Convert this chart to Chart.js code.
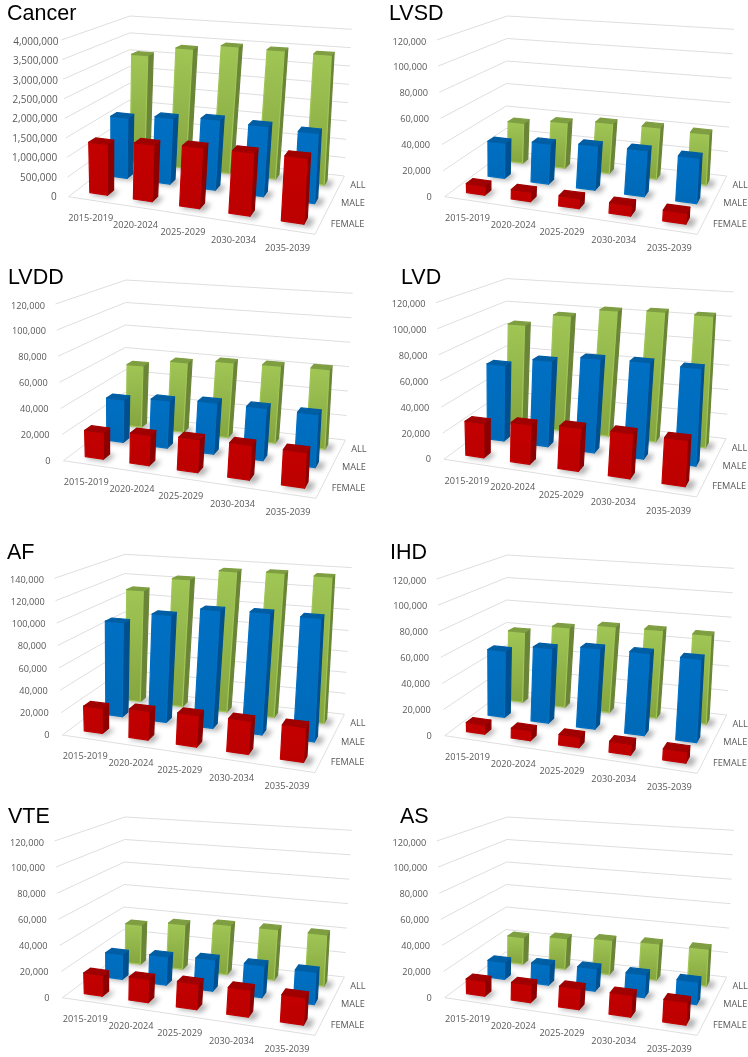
<!DOCTYPE html>
<html>
<head>
<meta charset="utf-8">
<title>Projected heart disease and cancer cases</title>
<script src="https://cdn.jsdelivr.net/npm/chart.js@4"></script>
<style>
  html, body { margin: 0; padding: 0; background: #fff; }
  body { position: relative; width: 748px; height: 1057px; overflow: hidden; }
  canvas { position: absolute; filter: blur(0.3px); }
</style>
</head>
<body>
<script>
// data
const periods = ['2015-2019', '2020-2024', '2025-2029', '2030-2034', '2035-2039'];
const groups = ['FEMALE', 'MALE', 'ALL'];

const cancerFemale = [1300000, 1420000, 1490000, 1510000, 1530000];
const cancerMale = [1630000, 1740000, 1820000, 1780000, 1740000];
const cancerAll = [3060000, 3330000, 3480000, 3460000, 3430000];

const lvsdFemale = [7000, 7200, 7500, 7500, 7500];
const lvsdMale = [28500, 31800, 34300, 35000, 33700];
const lvsdAll = [34000, 38000, 41200, 41500, 40400];

const lvddFemale = [20300, 22800, 24300, 24900, 24800];
const lvddMale = [34400, 37500, 39700, 39800, 39400];
const lvddAll = [52200, 58200, 61500, 62300, 63000];

const lvdFemale = [26300, 29700, 31600, 32300, 32300];
const lvdMale = [61100, 68000, 72900, 73600, 72500];
const lvdAll = [85800, 96200, 103200, 104900, 104200];

const afFemale = [22400, 25100, 27000, 27800, 28300];
const afMale = [88800, 99200, 107200, 108200, 107200];
const afAll = [110200, 124200, 134700, 136000, 135200];

const ihdFemale = [7000, 7500, 7800, 7800, 7800];
const ihdMale = [53600, 59300, 62600, 62700, 61900];
const ihdAll = [59600, 66600, 70600, 70900, 70200];

const vteFemale = [16000, 17600, 18900, 19400, 19200];
const vteMale = [20000, 22400, 24300, 24300, 24000];
const vteAll = [33200, 37400, 40500, 40900, 40700];

const asFemale = [11400, 13400, 15300, 15600, 15800];
const asMale = [13800, 15900, 17400, 17300, 16700];
const asAll = [22700, 25700, 28200, 29300, 29300];

// panel layout, shift moves the box template inside the canvas
const panels = [
  { title: 'Cancer', left: 0, top: 0, titleX: 7, titleY: 20, shift: [-8.3, 0], squeeze: 6, gap: [11.7, 3], tickSize: 10, max: 4000000, step: 500000, rows: [cancerFemale, cancerMale, cancerAll] },
  { title: 'LVSD', left: 374, top: 0, titleX: 15, titleY: 20, shift: [0, 0], max: 120000, step: 20000, rows: [lvsdFemale, lvsdMale, lvsdAll] },
  { title: 'LVDD', left: 0, top: 262, titleX: 8, titleY: 22, shift: [-7.3, 2], max: 120000, step: 20000, rows: [lvddFemale, lvddMale, lvddAll] },
  { title: 'LVD', left: 374, top: 262, titleX: 27, titleY: 22, shift: [-0.7, 0.6], max: 120000, step: 20000, rows: [lvdFemale, lvdMale, lvdAll] },
  { title: 'AF', left: 0, top: 530, titleX: 7, titleY: 29, shift: [-8.3, 8.3], max: 140000, step: 20000, rows: [afFemale, afMale, afAll] },
  { title: 'IHD', left: 374, top: 530, titleX: 16, titleY: 29, shift: [0, 9], max: 120000, step: 20000, rows: [ihdFemale, ihdMale, ihdAll] },
  { title: 'VTE', left: 0, top: 795, titleX: 8, titleY: 28, shift: [-8.3, 6], max: 120000, step: 20000, rows: [vteFemale, vteMale, vteAll] },
  { title: 'AS', left: 374, top: 795, titleX: 26, titleY: 28, shift: [0, 6], max: 120000, step: 20000, rows: [asFemale, asMale, asAll] }
];

const rowStyles = [
  { front: '#c40000', frontLow: '#bc0000', side: '#8c0000', cap: '#a00000' },
  { front: '#0070c4', frontLow: '#006ab8', side: '#00508f', cap: '#005ea4' },
  { front: '#a0c655', frontLow: '#86a640', side: '#6b8538', cap: '#7f9e42' }
];

// corners of the 3D box in canvas pixels: floor then top plane
const boxFloor = { fl: [70.7, 196.7], fr: [323.3, 234.3], br: [352.7, 176], bl: [131.7, 151] };
const boxTop = { fl: [62.7, 40], fr: [331, 56.7], br: [360, 29.3], bl: [133.3, 16] };
const barDepth = 0.1;

function quadMap(c) {
  // unit square to quad homography, u runs left to right, w runs front to back
  const [x0, y0] = c.fl, [x1, y1] = c.fr, [x2, y2] = c.br, [x3, y3] = c.bl;
  const dx1 = x1 - x2, dx2 = x3 - x2, sx = x0 - x1 + x2 - x3;
  const dy1 = y1 - y2, dy2 = y3 - y2, sy = y0 - y1 + y2 - y3;
  const det = dx1 * dy2 - dx2 * dy1;
  const g = (sx * dy2 - dx2 * sy) / det;
  const h = (dx1 * sy - sx * dy1) / det;
  const a = x1 - x0 + g * x1, b = x3 - x0 + h * x3;
  const d = y1 - y0 + g * y1, e = y3 - y0 + h * y3;
  return (u, w) => {
    const k = g * u + h * w + 1;
    return [(a * u + b * w + x0) / k, (d * u + e * w + y0) / k];
  };
}

function shifted(c, p, isTop) {
  const out = {};
  for (const key of ['fl', 'fr', 'br', 'bl']) {
    let pad = 0;
    if (p.squeeze && key === 'fl') pad = p.squeeze + (isTop ? 1 : 0);
    if (p.squeeze && key === 'bl') pad = p.squeeze - 1;
    out[key] = [c[key][0] + p.shift[0] + pad, c[key][1] + p.shift[1]];
  }
  return out;
}

function poly(ctx, pts) {
  ctx.beginPath();
  pts.forEach((pt, i) => i ? ctx.lineTo(pt[0], pt[1]) : ctx.moveTo(pt[0], pt[1]));
  ctx.closePath();
}

function face(ctx, pts, fill, edge) {
  poly(ctx, pts);
  ctx.fillStyle = fill;
  ctx.fill();
  ctx.strokeStyle = edge;
  ctx.lineWidth = 1.2;
  ctx.lineJoin = 'round';
  ctx.stroke();
}

const box3d = {
  id: 'box3d',
  beforeDatasetsDraw(chart, args, opts) {
    const ctx = chart.ctx;
    const p = opts.panel;
    const floorAt = quadMap(shifted(boxFloor, p, false));
    const topAt = quadMap(shifted(boxTop, p, true));
    const at = (u, v, w) => {
      const a = floorAt(u, w), b = topAt(u, w);
      return [a[0] + (b[0] - a[0]) * v, a[1] + (b[1] - a[1]) * v];
    };
    const xs = chart.scales.x, ys = chart.scales.y, zs = chart.scales.depth;
    const fracY = y => (ys.bottom - y) / ys.height;

    ctx.save();
    // walls and floor
    ctx.strokeStyle = '#dedede';
    ctx.lineWidth = 1;
    ys.ticks.forEach(t => {
      const v = fracY(ys.getPixelForValue(t.value));
      const pts = [at(0, v, 0), at(0, v, 1), at(1, v, 1)];
      ctx.beginPath();
      pts.forEach((pt, i) => i ? ctx.lineTo(pt[0], pt[1]) : ctx.moveTo(pt[0], pt[1]));
      ctx.stroke();
    });
    ctx.beginPath();
    [at(0, 0, 0), at(1, 0, 0), at(1, 0, 1)].forEach((pt, i) => i ? ctx.lineTo(pt[0], pt[1]) : ctx.moveTo(pt[0], pt[1]));
    ctx.stroke();

    // value ticks
    const gap = p.gap || [13, 10.4];
    ctx.fillStyle = '#595959';
    ctx.font = (p.tickSize || 9.2) + 'px "Open Sans"';
    ctx.textAlign = 'right';
    ctx.textBaseline = 'middle';
    ys.ticks.forEach(t => {
      const v = fracY(ys.getPixelForValue(t.value));
      const pt = at(0, v, 0);
      ctx.fillText(t.label, pt[0] - (gap[0] + (gap[1] - gap[0]) * v), pt[1] + 0.5 + 1.5 * v);
    });

    // period labels
    ctx.font = '9.2px "Open Sans"';
    ctx.textAlign = 'center';
    xs.ticks.forEach((t, i) => {
      const pt = at((xs.getPixelForValue(i) - xs.left) / xs.width, 0, 0);
      ctx.fillText(t.label, pt[0] + 1, pt[1] + 18.5);
    });

    // group labels
    ctx.textAlign = 'left';
    zs.ticks.forEach((t, i) => {
      const pt = at(1, 0, (zs.getPixelForValue(i) - zs.left) / zs.width);
      ctx.fillText(t.label, pt[0] + 10, pt[1] + 1);
    });

    // panel title
    ctx.fillStyle = '#000';
    ctx.font = '21.5px "Liberation Sans"';
    ctx.textBaseline = 'alphabetic';
    ctx.fillText(p.title, p.titleX, p.titleY);

    // bars, back row first
    for (let d = chart.data.datasets.length - 1; d >= 0; d--) {
      const ds = chart.data.datasets[d];
      const w = (zs.getPixelForValue(ds.group) - zs.left) / zs.width;
      const w0 = w - barDepth / 2, w1 = w + barDepth / 2;
      const barWidth = 0.084 - 0.012 * w;
      chart.getDatasetMeta(d).data.forEach(el => {
        const u = (el.x - xs.left) / xs.width + 0.005;
        const u0 = u - barWidth / 2, u1 = u + barWidth / 2;
        const v = fracY(el.y);

        // soft shadow on the floor
        ctx.save();
        ctx.filter = 'blur(2.5px)';
        ctx.fillStyle = 'rgba(0,0,0,0.3)';
        poly(ctx, [at(u0 + 0.01, 0, w0 - 0.035), at(u1 + 0.028, 0, w0 - 0.035), at(u1 + 0.028, 0, w1), at(u0 + 0.01, 0, w1)]);
        ctx.fill();
        ctx.restore();

        const a = at(u0, 0, w0), b = at(u1, 0, w0), c = at(u1, 0, w1);
        const at0 = at(u0, v, w0), bt = at(u1, v, w0), ct = at(u1, v, w1), dt = at(u0, v, w1);
        const grad = ctx.createLinearGradient(0, at0[1], 0, a[1]);
        grad.addColorStop(0, ds.front);
        grad.addColorStop(1, ds.frontLow);
        face(ctx, [b, c, ct, bt], ds.side, ds.side);
        face(ctx, [a, b, bt, at0], grad, ds.front);
        face(ctx, [at0, bt, ct, dt], ds.cap, ds.cap);
      });
    }
    ctx.restore();
    return false;
  }
};

panels.forEach(p => {
  const canvas = document.createElement('canvas');
  canvas.width = 374;
  canvas.height = 262;
  canvas.style.left = p.left + 'px';
  canvas.style.top = p.top + 'px';
  document.body.appendChild(canvas);

  new Chart(canvas, {
    type: 'bar',
    data: {
      labels: periods,
      datasets: p.rows.map((values, i) => ({
        label: groups[i],
        group: i,
        data: values,
        front: rowStyles[i].front,
        frontLow: rowStyles[i].frontLow,
        side: rowStyles[i].side,
        cap: rowStyles[i].cap,
        backgroundColor: rowStyles[i].front
      }))
    },
    options: {
      responsive: false,
      animation: false,
      events: [],
      datasets: { bar: { grouped: false } },
      plugins: {
        legend: { display: false },
        tooltip: { enabled: false },
        box3d: { panel: p }
      },
      scales: {
        x: { display: false, offset: true },
        y: {
          display: false,
          min: 0,
          max: p.max,
          ticks: {
            stepSize: p.step,
            callback: value => value.toLocaleString('en-US')
          }
        },
        depth: { axis: 'x', type: 'category', display: false, offset: true, labels: groups }
      }
    },
    plugins: [box3d]
  });
});
</script>
</body>
</html>
